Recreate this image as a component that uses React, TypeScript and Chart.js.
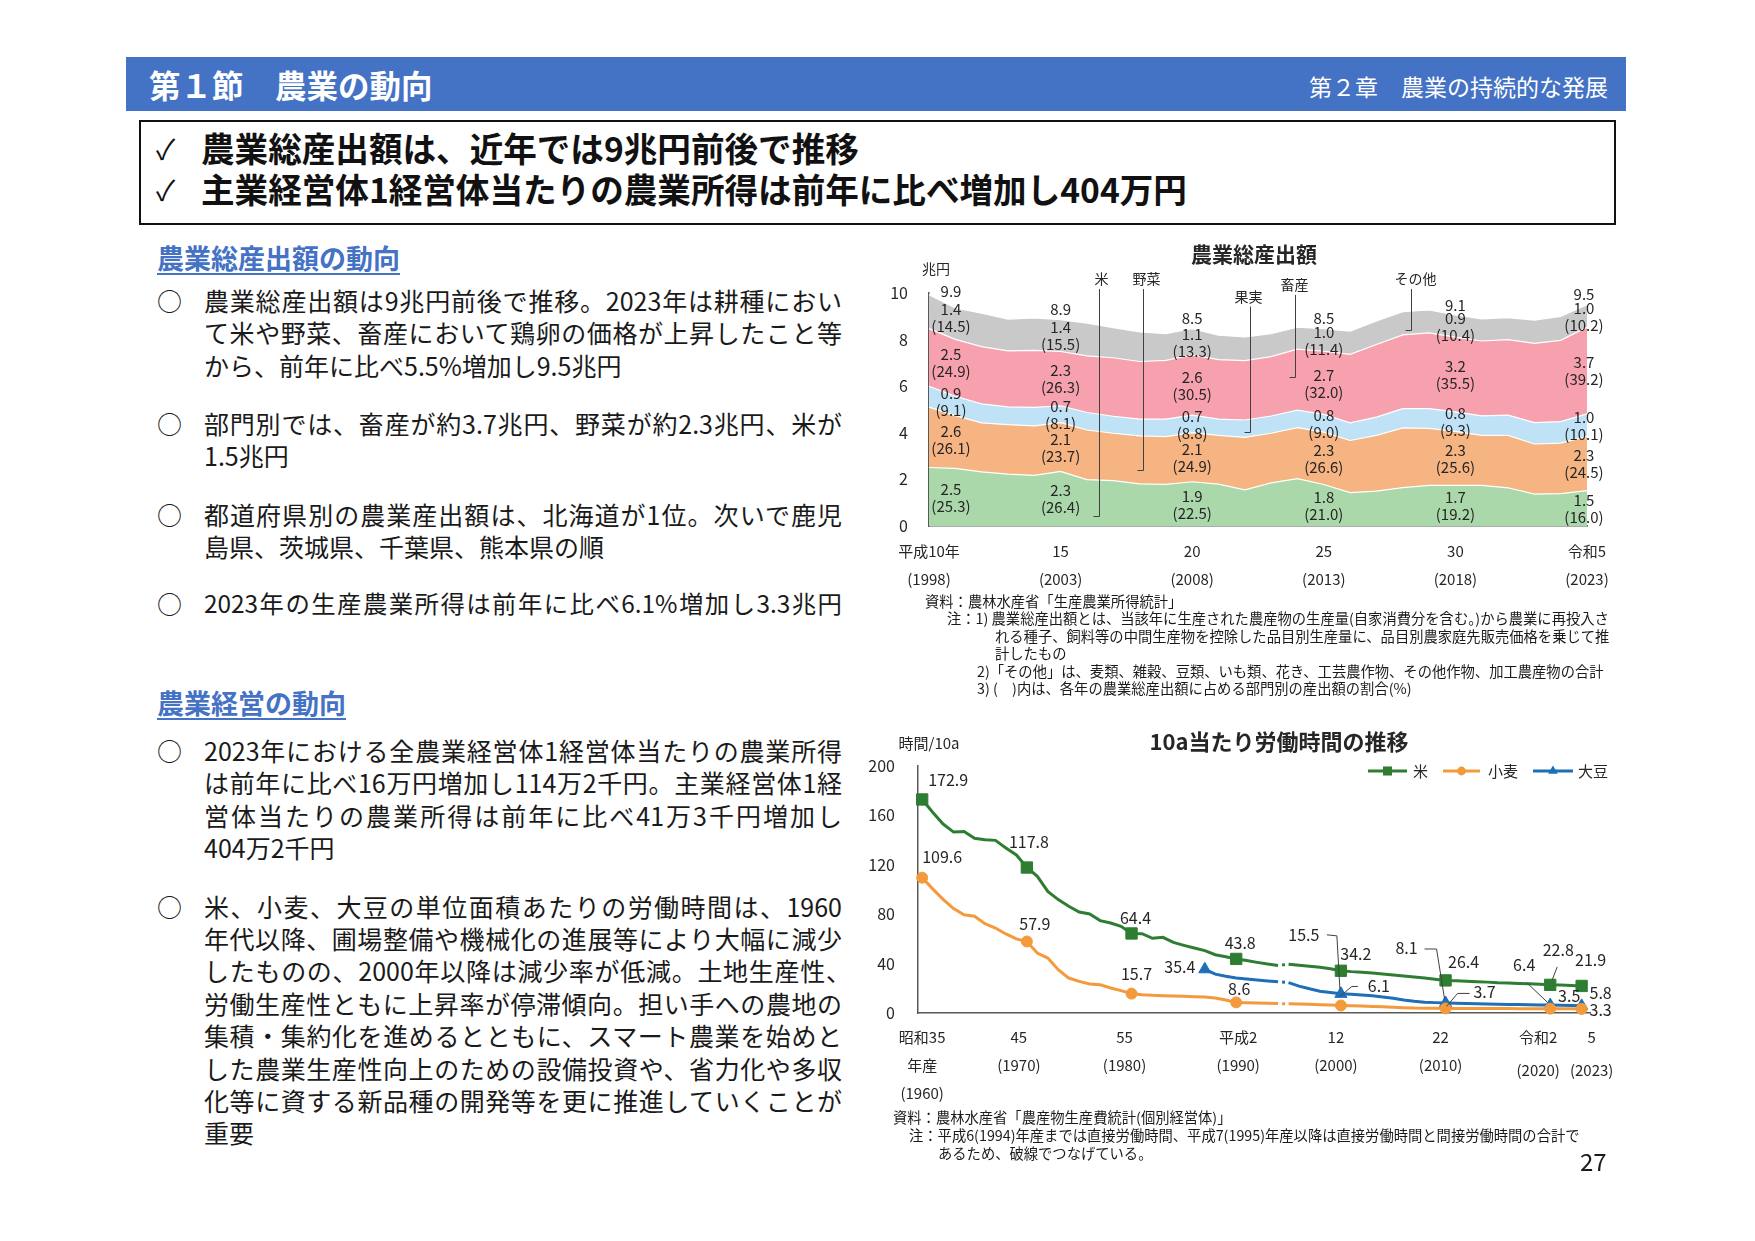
import React, { useEffect, useRef } from "react";
import { Chart, registerables } from "chart.js";

Chart.register(...registerables);

const FONT = '"Noto Sans CJK JP", "Noto Sans", "DejaVu Sans", sans-serif';
const INK = "#262626";

// ================= 農業総産出額 (兆円) =================
const OUTPUT_YEARS = ["1998", "1999", "2000", "2001", "2002", "2003", "2004", "2005", "2006", "2007", "2008", "2009", "2010", "2011", "2012", "2013", "2014", "2015", "2016", "2017", "2018", "2019", "2020", "2021", "2022", "2023"];
const RICE_OUTPUT = [2.51, 2.47, 2.32, 2.23, 2.17, 2.34, 1.99, 1.95, 1.81, 1.79, 1.9, 1.8, 1.55, 1.85, 2.03, 1.78, 1.43, 1.5, 1.65, 1.74, 1.74, 1.74, 1.64, 1.37, 1.39, 1.52];
const VEGETABLE_OUTPUT = [2.59, 2.27, 2.11, 2.12, 2.13, 2.1, 2.13, 2.03, 2.06, 2.05, 2.11, 2.09, 2.25, 2.13, 2.19, 2.25, 2.24, 2.39, 2.56, 2.45, 2.32, 2.15, 2.25, 2.15, 2.17, 2.33];
const FRUIT_OUTPUT = [0.9, 0.83, 0.81, 0.76, 0.79, 0.72, 0.75, 0.73, 0.72, 0.75, 0.75, 0.7, 0.75, 0.74, 0.75, 0.76, 0.76, 0.78, 0.83, 0.85, 0.84, 0.84, 0.87, 0.92, 0.92, 0.96];
const LIVESTOCK_OUTPUT = [2.47, 2.44, 2.46, 2.41, 2.45, 2.33, 2.43, 2.51, 2.47, 2.52, 2.58, 2.55, 2.55, 2.55, 2.62, 2.71, 2.94, 3.12, 3.16, 3.25, 3.21, 3.21, 3.24, 3.4, 3.49, 3.72];
const OTHER_OUTPUT = [1.46, 1.35, 1.43, 1.36, 1.39, 1.37, 1.41, 1.29, 1.27, 1.15, 1.13, 1.05, 1.02, 0.98, 0.94, 0.97, 0.99, 1.01, 1.0, 0.98, 0.95, 0.95, 0.94, 1.0, 1.03, 0.97];

const OUTPUT_SERIES_NAMES = ["米", "野菜", "果実", "畜産", "その他"];
const OUTPUT_LABEL_YEARS = ["1998", "2003", "2008", "2013", "2018", "2023"];
const OUTPUT_ERA_TICKS = ["平成10年", "15", "20", "25", "30", "令和5"];
const OUTPUT_AD_TICKS = ["(1998)", "(2003)", "(2008)", "(2013)", "(2018)", "(2023)"];
const OUTPUT_TOTAL_TEXT = ["9.9", "8.9", "8.5", "8.5", "9.1", "9.5"];
const RICE_VALUE_TEXT = ["2.5", "2.3", "1.9", "1.8", "1.7", "1.5"];
const RICE_SHARE_TEXT = ["(25.3)", "(26.4)", "(22.5)", "(21.0)", "(19.2)", "(16.0)"];
const VEGETABLE_VALUE_TEXT = ["2.6", "2.1", "2.1", "2.3", "2.3", "2.3"];
const VEGETABLE_SHARE_TEXT = ["(26.1)", "(23.7)", "(24.9)", "(26.6)", "(25.6)", "(24.5)"];
const FRUIT_VALUE_TEXT = ["0.9", "0.7", "0.7", "0.8", "0.8", "1.0"];
const FRUIT_SHARE_TEXT = ["(9.1)", "(8.1)", "(8.8)", "(9.0)", "(9.3)", "(10.1)"];
const LIVESTOCK_VALUE_TEXT = ["2.5", "2.3", "2.6", "2.7", "3.2", "3.7"];
const LIVESTOCK_SHARE_TEXT = ["(24.9)", "(26.3)", "(30.5)", "(32.0)", "(35.5)", "(39.2)"];
const OTHER_VALUE_TEXT = ["1.4", "1.4", "1.1", "1.0", "0.9", "1.0"];
const OTHER_SHARE_TEXT = ["(14.5)", "(15.5)", "(13.3)", "(11.4)", "(10.4)", "(10.2)"];

// ================= 10a当たり労働時間 (時間/10a) =================
const LABOR_YEARS = [
  1960, 1961, 1962, 1963, 1964, 1965, 1966, 1967, 1968, 1969,
  1970, 1971, 1972, 1973, 1974, 1975, 1976, 1977, 1978, 1979,
  1980, 1981, 1982, 1983, 1984, 1985, 1986, 1987, 1988, 1989,
  1990, 1991, 1992, 1993, 1994, 1995, 1996, 1997, 1998, 1999,
  2000, 2001, 2002, 2003, 2004, 2005, 2006, 2007, 2008, 2009,
  2010, 2011, 2012, 2013, 2014, 2015, 2016, 2017, 2018, 2019,
  2020, 2021, 2022, 2023,
];
const RICE_HOURS = [
  172.9, 162.5, 153.0, 146.5, 147.0, 141.5, 140.3, 139.8, 133.6, 128.0,
  117.8, 110.7, 98.5, 91.8, 86.4, 81.8, 80.2, 74.8, 72.9, 70.2,
  64.4, 64.2, 60.5, 61.3, 57.2, 54.8, 52.6, 50.5, 47.2, 45.5,
  43.8, 42.5, 41.0, 39.6, 38.5, 39.5, 38.6, 37.8, 37.0, 35.8,
  34.2, 33.5, 33.0, 32.4, 31.6, 30.8, 30.0, 29.2, 28.3, 27.3,
  26.4, 26.1, 25.8, 25.4, 25.0, 24.5, 24.2, 23.9, 23.6, 23.3,
  22.8, 22.6, 22.3, 21.9,
];
const WHEAT_HOURS = [
  109.6, 100.5, 92.0, 84.5, 79.6, 78.3, 72.3, 68.8, 64.0, 60.0,
  57.9, 48.6, 44.5, 35.1, 28.3, 25.6, 23.5, 22.9, 20.2, 18.1,
  15.7, 14.8, 14.3, 14.0, 13.8, 13.5, 13.2, 12.9, 12.2, 10.5,
  8.6, 8.3, 8.0, 7.8, 7.6, 7.4, 7.2, 7.0, 6.7, 6.4,
  6.1, 5.9, 5.6, 5.3, 5.0, 4.7, 4.3, 4.0, 3.9, 3.8,
  3.7, 3.7, 3.7, 3.6, 3.6, 3.6, 3.6, 3.5, 3.5, 3.5,
  3.5, 3.4, 3.4, 3.3,
];
const SOYBEAN_HOURS = [
  null, null, null, null, null, null, null, null, null, null,
  null, null, null, null, null, null, null, null, null, null,
  null, null, null, null, null, null, null, 35.4, 31.5, 29.8,
  28.3, 27.5, 26.8, 26.0, 25.3, 24.6, 21.8, 19.6, 17.6, 16.6,
  15.5, 15.1, 14.6, 14.0, 13.0, 12.0, 10.6, 9.5, 8.8, 8.4,
  8.1, 7.9, 7.6, 7.4, 7.2, 7.0, 6.9, 6.8, 6.7, 6.5,
  6.4, 6.2, 6.0, 5.8,
];
const LABOR_SERIES_NAMES = ["米", "小麦", "大豆"];
const RICE_WHEAT_MARK_YEARS = [1960, 1970, 1980, 1990, 2000, 2010, 2020, 2023];
const SOYBEAN_MARK_YEARS = [1987, 2000, 2010, 2020, 2023];
const BREAK_YEAR = 1994; // 1994 → 1995 joined with a broken line
const LABOR_TICK_YEARS = [1960, 1970, 1980, 1990, 2000, 2010, 2020, 2023];
const LABOR_TICK_ERA = ["昭和35", "45", "55", "平成2", "12", "22", "令和2", "5"];
const LABOR_TICK_SUB = [["年産", "(1960)"], ["(1970)"], ["(1980)"], ["(1990)"], ["(2000)"], ["(2010)"], ["(2020)"], ["(2023)"]];

// ---- label layout (offsets from the data point, px) ----
const LABOR_LABEL_LAYOUT = [
  { s: 0, year: 1960, text: "172.9", dx: 26, dy: -20 },
  { s: 0, year: 1970, text: "117.8", dx: 2, dy: -26 },
  { s: 0, year: 1980, text: "64.4", dx: 4, dy: -16 },
  { s: 0, year: 1990, text: "43.8", dx: 4, dy: -16 },
  { s: 0, year: 2000, text: "34.2", dx: 15, dy: -17 },
  { s: 0, year: 2010, text: "26.4", dx: 18, dy: -18 },
  { s: 0, year: 2020, text: "22.8", dx: 8, dy: -35, lead: [[7, -18], [2, -5]] },
  { s: 0, year: 2023, text: "21.9", dx: 9, dy: -26 },
  { s: 1, year: 1960, text: "109.6", dx: 20, dy: -21 },
  { s: 1, year: 1970, text: "57.9", dx: 8, dy: -18 },
  { s: 1, year: 1980, text: "15.7", dx: 5, dy: -20 },
  { s: 1, year: 1990, text: "8.6", dx: 3, dy: -13 },
  { s: 1, year: 2000, text: "6.1", dx: 38, dy: -20, lead: [[-1, -9], [11, -19], [17, -19]] },
  { s: 1, year: 2010, text: "3.7", dx: 39, dy: -17, lead: [[1, -2], [12, -15], [24, -15]] },
  { s: 1, year: 2020, text: "3.5", dx: 19, dy: -13 },
  { s: 1, year: 2023, text: "3.3", dx: 19, dy: 1 },
  { s: 2, year: 1987, text: "35.4", dx: -25, dy: -2 },
  { s: 2, year: 2000, text: "15.5", dx: -37, dy: -59, lead: [[-14, -59], [-4, -58], [-1, -5]] },
  { s: 2, year: 2010, text: "8.1", dx: -39, dy: -55, lead: [[-21, -54], [-9, -54], [-1, -4]] },
  { s: 2, year: 2020, text: "6.4", dx: -26, dy: -40, lead: [[-23, -22], [-3, -3]] },
  { s: 2, year: 2023, text: "5.8", dx: 19, dy: -13 },
];
const LABOR_TICK_NUDGE = [0, -8, -7, 2, -5, -5, -12, 10];
const OUTPUT_NAME_LEADERS = [
  { at: 6.45, low: 0.43, textAt: 10.6, textDx: 2 },
  { at: 8.14, low: 2.4, textAt: 10.6, textDx: 3 },
  { at: 12.2, low: 4.04, textAt: 9.85, textDx: -2 },
  { at: 13.9, low: 6.4, textAt: 10.35, textDx: -1 },
  { at: 18.3, low: 8.42, textAt: 10.6, textDx: 4 },
];
// horizontal shift (px) and band sampling shift (index) of each label column
const OUTPUT_COLUMN_DX = [22, 0, 0, 0, 0, -3];
const OUTPUT_COLUMN_SAMPLE = [0.5, 0, 0, 0, 0, 0];

// ================= page text =================
const OUTPUT_POINTS_TEXT = [
  ["農業総産出額は9兆円前後で推移。2023年は耕種におい", "て米や野菜、畜産において鶏卵の価格が上昇したこと等", "から、前年に比べ5.5%増加し9.5兆円"],
  ["部門別では、畜産が約3.7兆円、野菜が約2.3兆円、米が", "1.5兆円"],
  ["都道府県別の農業産出額は、北海道が1位。次いで鹿児", "島県、茨城県、千葉県、熊本県の順"],
  ["2023年の生産農業所得は前年に比べ6.1%増加し3.3兆円"],
];
const MANAGEMENT_POINTS_TEXT = [
  ["2023年における全農業経営体1経営体当たりの農業所得", "は前年に比べ16万円増加し114万2千円。主業経営体1経", "営体当たりの農業所得は前年に比べ41万3千円増加し", "404万2千円"],
  ["米、小麦、大豆の単位面積あたりの労働時間は、1960", "年代以降、圃場整備や機械化の進展等により大幅に減少", "したものの、2000年以降は減少率が低減。土地生産性、", "労働生産性ともに上昇率が停滞傾向。担い手への農地の", "集積・集約化を進めるとともに、スマート農業を始めと", "した農業生産性向上のための設備投資や、省力化や多収", "化等に資する新品種の開発等を更に推進していくことが", "重要"],
];
const OUTPUT_POINT_Y = [300, 423, 514, 603];
const MANAGEMENT_POINT_Y = [750, 905.5];

const OUTPUT_NOTES = [
  { x: 925, y: 601, t: "資料：農林水産省「生産農業所得統計」" },
  { x: 947, y: 618, t: "注：1) 農業総産出額とは、当該年に生産された農産物の生産量(自家消費分を含む。)から農業に再投入さ" },
  { x: 995, y: 636, t: "れる種子、飼料等の中間生産物を控除した品目別生産量に、品目別農家庭先販売価格を乗じて推" },
  { x: 995, y: 653, t: "計したもの" },
  { x: 977, y: 671, t: "2)「その他」は、麦類、雑穀、豆類、いも類、花き、工芸農作物、その他作物、加工農産物の合計" },
  { x: 977, y: 688, t: "3) (　)内は、各年の農業総産出額に占める部門別の産出額の割合(%)" },
];
const LABOR_NOTES = [
  { x: 893, y: 1117, t: "資料：農林水産省「農産物生産費統計(個別経営体)」" },
  { x: 909, y: 1135, t: "注：平成6(1994)年産までは直接労働時間、平成7(1995)年産以降は直接労働時間と間接労働時間の合計で" },
  { x: 938, y: 1153, t: "あるため、破線でつなげている。" },
];

// ================= colours =================
const AREA_COLORS = ["#abd8ab", "#f5b482", "#c0e2f6", "#f7a1af", "#c9c9c9"];
const LINE_COLORS = ["#2e7d32", "#f39b3c", "#1f6fb8"];
const LINE_STYLES = ["rect", "circle", "triangle"];
const LINE_RADII = [8, 5.5, 7];

function drawMarker(ctx: any, style: string, x: number, y: number, r: number, color: string) {
  ctx.fillStyle = color;
  ctx.beginPath();
  if (style === "rect") {
    const h = r * Math.SQRT1_2;
    ctx.rect(x - h, y - h, 2 * h, 2 * h);
  } else if (style === "circle") {
    ctx.arc(x, y, r, 0, Math.PI * 2);
  } else {
    ctx.moveTo(x, y - r);
    ctx.lineTo(x + r * 0.866, y + r * 0.5);
    ctx.lineTo(x - r * 0.866, y + r * 0.5);
    ctx.closePath();
  }
  ctx.fill();
}

function valueAt(arr: number[], f: number) {
  const i = Math.floor(f);
  const t = f - i;
  if (t === 0 || i + 1 >= arr.length) return arr[i];
  return arr[i] * (1 - t) + arr[i + 1] * t;
}

const outputOverlay = {
  id: "outputOverlay",
  afterDatasetsDraw(chart: any) {
    const { ctx, chartArea } = chart;
    const xs = chart.scales.x;
    const ys = chart.scales.y;
    const series = [
      { values: RICE_OUTPUT, v: RICE_VALUE_TEXT, p: RICE_SHARE_TEXT },
      { values: VEGETABLE_OUTPUT, v: VEGETABLE_VALUE_TEXT, p: VEGETABLE_SHARE_TEXT },
      { values: FRUIT_OUTPUT, v: FRUIT_VALUE_TEXT, p: FRUIT_SHARE_TEXT },
      { values: LIVESTOCK_OUTPUT, v: LIVESTOCK_VALUE_TEXT, p: LIVESTOCK_SHARE_TEXT },
      { values: OTHER_OUTPUT, v: OTHER_VALUE_TEXT, p: OTHER_SHARE_TEXT },
    ];
    ctx.save();
    ctx.textAlign = "center";
    ctx.textBaseline = "middle";
    ctx.fillStyle = INK;
    ctx.font = `bold 21px ${FONT}`;
    ctx.fillText("農業総産出額", (chartArea.left + chartArea.right) / 2 - 4, chartArea.top - 39);
    ctx.font = `14px ${FONT}`;
    ctx.fillText("兆円", chartArea.left + 7, chartArea.top - 24);

    // series names with leader lines
    ctx.strokeStyle = "#404040";
    ctx.lineWidth = 1;
    OUTPUT_NAME_LEADERS.forEach((l, k) => {
      const px = Math.round(xs.getPixelForValue(l.at)) + 0.5;
      const ty = ys.getPixelForValue(l.textAt);
      const by = Math.round(ys.getPixelForValue(l.low)) + 0.5;
      ctx.beginPath();
      ctx.moveTo(px, ty + 10);
      ctx.lineTo(px, by);
      ctx.lineTo(px - 6, by);
      ctx.stroke();
      ctx.fillStyle = INK;
      ctx.fillText(OUTPUT_SERIES_NAMES[k], px + l.textDx, ty);
    });

    // value / share labels
    ctx.font = `15px ${FONT}`;
    ctx.fillStyle = INK;
    OUTPUT_LABEL_YEARS.forEach((yr, j) => {
      const i = OUTPUT_YEARS.indexOf(yr);
      const px = xs.getPixelForValue(i) + OUTPUT_COLUMN_DX[j];
      const f = i + OUTPUT_COLUMN_SAMPLE[j];
      let base = 0;
      series.forEach((s) => {
        const v = valueAt(s.values, f);
        const mid = ys.getPixelForValue(base + v / 2);
        base += v;
        ctx.fillText(s.v[j], px, mid - 8);
        ctx.fillText(s.p[j], px, mid + 9);
      });
      ctx.fillText(OUTPUT_TOTAL_TEXT[j], px, ys.getPixelForValue(base) - 10);
    });

    // x tick labels
    OUTPUT_LABEL_YEARS.forEach((yr, j) => {
      const px = xs.getPixelForValue(OUTPUT_YEARS.indexOf(yr));
      ctx.fillText(OUTPUT_ERA_TICKS[j], px, chartArea.bottom + 25);
      ctx.fillText(OUTPUT_AD_TICKS[j], px, chartArea.bottom + 53);
    });
    ctx.restore();
  },
};

const LEGEND_LAYOUT = [
  { lineFrom: -222, lineTo: -183, textAt: -177 },
  { lineFrom: -147, lineTo: -110, textAt: -102 },
  { lineFrom: -57, lineTo: -17, textAt: -12 },
];

const laborOverlay = {
  id: "laborOverlay",
  afterDatasetsDraw(chart: any) {
    const { ctx, chartArea } = chart;
    const xs = chart.scales.x;
    const ys = chart.scales.y;
    const values = [RICE_HOURS, WHEAT_HOURS, SOYBEAN_HOURS];
    ctx.save();
    ctx.textAlign = "center";
    ctx.textBaseline = "middle";
    ctx.fillStyle = INK;
    ctx.font = `bold 22px ${FONT}`;
    ctx.fillText("10a当たり労働時間の推移", chartArea.left + 361, chartArea.top - 24);
    ctx.font = `15px ${FONT}`;
    ctx.fillText("時間/10a", chartArea.left + 11, chartArea.top - 23);

    // legend
    const ly = chartArea.top + 5;
    LEGEND_LAYOUT.forEach((l, k) => {
      const c = LINE_COLORS[k];
      ctx.strokeStyle = c;
      ctx.lineWidth = 3;
      ctx.beginPath();
      ctx.moveTo(chartArea.right + l.lineFrom, ly);
      ctx.lineTo(chartArea.right + l.lineTo, ly);
      ctx.stroke();
      drawMarker(ctx, LINE_STYLES[k], chartArea.right + (l.lineFrom + l.lineTo) / 2, ly, LINE_RADII[k] * 0.8, c);
      ctx.fillStyle = INK;
      ctx.textAlign = "left";
      ctx.fillText(LABOR_SERIES_NAMES[k], chartArea.right + l.textAt, ly);
    });

    // data labels
    ctx.textAlign = "center";
    ctx.font = `16px ${FONT}`;
    ctx.strokeStyle = "#404040";
    ctx.lineWidth = 1;
    LABOR_LABEL_LAYOUT.forEach((n: any) => {
      const i = LABOR_YEARS.indexOf(n.year);
      const px = xs.getPixelForValue(n.year);
      const py = ys.getPixelForValue(values[n.s][i]);
      if (n.lead) {
        ctx.beginPath();
        n.lead.forEach((p: number[], k: number) => {
          if (k === 0) ctx.moveTo(px + p[0], py + p[1]);
          else ctx.lineTo(px + p[0], py + p[1]);
        });
        ctx.stroke();
      }
      ctx.fillStyle = INK;
      ctx.fillText(n.text, px + n.dx, py + n.dy);
    });

    // x tick labels
    ctx.font = `15px ${FONT}`;
    LABOR_TICK_YEARS.forEach((yr, j) => {
      const px = xs.getPixelForValue(yr) + LABOR_TICK_NUDGE[j];
      ctx.fillText(LABOR_TICK_ERA[j], px, chartArea.bottom + 24);
      const extra = j >= 6 ? 5 : 0;
      LABOR_TICK_SUB[j].forEach((t, k) => {
        ctx.fillText(t, px, chartArea.bottom + 52 + extra + k * 28);
      });
    });
    ctx.restore();
  },
};

function outputConfig(): any {
  const sets = [RICE_OUTPUT, VEGETABLE_OUTPUT, FRUIT_OUTPUT, LIVESTOCK_OUTPUT, OTHER_OUTPUT];
  return {
    type: "line",
    data: {
      labels: OUTPUT_YEARS,
      datasets: sets.map((d, k) => ({
        label: OUTPUT_SERIES_NAMES[k],
        data: d,
        backgroundColor: AREA_COLORS[k],
        borderColor: "#ffffff",
        borderWidth: 1.2,
        fill: k === 0 ? "origin" : "-1",
        pointRadius: 0,
        tension: 0,
      })),
    },
    options: {
      responsive: false,
      animation: false,
      devicePixelRatio: 1,
      layout: { padding: { left: 0, right: 33, top: 53, bottom: 0 } },
      plugins: { legend: { display: false }, tooltip: { enabled: false }, title: { display: false } },
      scales: {
        x: {
          type: "category",
          offset: false,
          grid: { display: false, drawTicks: false },
          border: { display: true, color: "#595959", width: 1.5 },
          ticks: { display: false },
          afterFit: (s: any) => { s.height = 74; },
        },
        y: {
          stacked: true,
          min: 0,
          max: 10,
          ticks: { stepSize: 2, color: INK, padding: 21, font: { family: FONT, size: 16 } },
          grid: { display: false, drawTicks: false },
          border: { display: true, color: "#595959", width: 1.5 },
          afterFit: (s: any) => { s.width = 69; },
        },
      },
    },
    plugins: [outputOverlay],
  };
}

function laborConfig(): any {
  const sets = [RICE_HOURS, WHEAT_HOURS, SOYBEAN_HOURS];
  const marks = [RICE_WHEAT_MARK_YEARS, RICE_WHEAT_MARK_YEARS, SOYBEAN_MARK_YEARS];
  return {
    type: "line",
    data: {
      datasets: sets.map((vals, k) => ({
        label: LABOR_SERIES_NAMES[k],
        data: LABOR_YEARS.map((yr, i) => ({ x: yr, y: vals[i] })),
        borderColor: LINE_COLORS[k],
        backgroundColor: LINE_COLORS[k],
        borderWidth: 3,
        pointStyle: LINE_STYLES[k],
        pointRadius: (c: any) => (marks[k].includes(LABOR_YEARS[c.dataIndex]) ? LINE_RADII[k] : 0),
        pointHoverRadius: 0,
        pointBackgroundColor: LINE_COLORS[k],
        pointBorderColor: LINE_COLORS[k],
        pointBorderWidth: 1,
        tension: 0,
        fill: false,
        clip: false,
        segment: {
          borderDash: (c: any) => (LABOR_YEARS[c.p0DataIndex] === BREAK_YEAR ? [0, 4, 3, 4] : undefined),
        },
      })),
    },
    options: {
      responsive: false,
      animation: false,
      devicePixelRatio: 1,
      layout: { padding: { left: 0, right: 40, top: 36, bottom: 0 } },
      plugins: { legend: { display: false }, tooltip: { enabled: false }, title: { display: false } },
      scales: {
        x: {
          type: "linear",
          min: 1959.6,
          max: 2023.8,
          grid: { display: false, drawTicks: false },
          border: { display: true, color: "#595959", width: 1.5 },
          ticks: { display: false },
          afterFit: (s: any) => { s.height = 97; },
        },
        y: {
          min: 0,
          max: 200,
          ticks: { stepSize: 40, color: INK, padding: 23, font: { family: FONT, size: 16 } },
          grid: { display: false, drawTicks: false },
          border: { display: true, color: "#595959", width: 1.5 },
          afterFit: (s: any) => { s.width = 58; },
        },
      },
    },
    plugins: [laborOverlay],
  };
}

function Paragraph({ lines, y }: { lines: string[]; y: number }) {
  return (
    <>
      <div style={{ position: "absolute", left: 157, top: y - 16, fontSize: 25, lineHeight: "32px" }}>○</div>
      {lines.map((t, k) => {
        const single = lines.length === 1;
        const just = k < lines.length - 1 || single;
        const w = t.endsWith("、") ? 647 : 638;
        return (
          <div
            key={k}
            style={{
              position: "absolute",
              left: 204,
              top: y - 16 + k * 32.4,
              height: 32,
              lineHeight: "32px",
              fontSize: single ? 24.4 : 25,
              width: just ? w : undefined,
              whiteSpace: just ? "normal" : "nowrap",
              textAlign: just ? "justify" : "left",
              textAlignLast: just ? "justify" : "auto",
            } as any}
          >
            {t}
          </div>
        );
      })}
    </>
  );
}

function Note({ x, y, t }: { x: number; y: number; t: string }) {
  return (
    <div style={{ position: "absolute", left: x, top: y - 9, height: 18, lineHeight: "18px", fontSize: 14.3, whiteSpace: "nowrap", color: "#1a1a1a" }}>
      {t}
    </div>
  );
}

export default function App() {
  const topRef = useRef<HTMLCanvasElement>(null);
  const bottomRef = useRef<HTMLCanvasElement>(null);

  useEffect(() => {
    const c1 = new Chart(topRef.current as HTMLCanvasElement, outputConfig());
    const c2 = new Chart(bottomRef.current as HTMLCanvasElement, laborConfig());
    return () => {
      c1.destroy();
      c2.destroy();
    };
  }, []);

  const heading = (text: string, y: number) => (
    <div
      style={{
        position: "absolute",
        left: 157,
        top: y - 16,
        height: 32,
        lineHeight: "32px",
        fontSize: 27,
        fontWeight: 700,
        color: "#4472c4",
        textDecoration: "underline",
        textDecorationThickness: "2px",
        textUnderlineOffset: "4px",
        whiteSpace: "nowrap",
      }}
    >
      {text}
    </div>
  );

  return (
    <div
      style={{
        position: "absolute",
        left: 0,
        top: 0,
        width: 1755,
        height: 1241,
        background: "#ffffff",
        overflow: "hidden",
        fontFamily: FONT,
        color: "#1a1a1a",
      }}
    >
      {/* header bar */}
      <div style={{ position: "absolute", left: 126, top: 57, width: 1500, height: 54, background: "#4472c4" }} />
      <div style={{ position: "absolute", left: 149, top: 57, height: 54, lineHeight: "54px", fontSize: 31.5, fontWeight: 700, color: "#fff", whiteSpace: "nowrap" }}>
        第１節　農業の動向
      </div>
      <div style={{ position: "absolute", right: 147, top: 59, height: 54, lineHeight: "54px", fontSize: 23, color: "#fff", whiteSpace: "nowrap" }}>
        第２章　農業の持続的な発展
      </div>

      {/* summary box */}
      <div style={{ position: "absolute", left: 139, top: 120, width: 1473, height: 101, border: "2.5px solid #111" }} />
      {[
        { y: 148, t: "農業総産出額は、近年では9兆円前後で推移" },
        { y: 189, t: "主業経営体1経営体当たりの農業所得は前年に比べ増加し404万円" },
      ].map((l, k) => (
        <React.Fragment key={k}>
          <div style={{ position: "absolute", left: 156, top: l.y - 20, height: 40, lineHeight: "40px", fontSize: 28, color: "#111" }}>✓</div>
          <div style={{ position: "absolute", left: 201, top: l.y - 20, height: 40, lineHeight: "40px", fontSize: 33.6, fontWeight: 700, color: "#111", whiteSpace: "nowrap" }}>
            {l.t}
          </div>
        </React.Fragment>
      ))}

      {/* left column */}
      {heading("農業総産出額の動向", 258)}
      {OUTPUT_POINTS_TEXT.map((lines, k) => (
        <Paragraph key={"o" + k} lines={lines} y={OUTPUT_POINT_Y[k]} />
      ))}
      {heading("農業経営の動向", 703)}
      {MANAGEMENT_POINTS_TEXT.map((lines, k) => (
        <Paragraph key={"m" + k} lines={lines} y={MANAGEMENT_POINT_Y[k]} />
      ))}

      {/* charts */}
      <canvas ref={topRef} width={760} height={360} style={{ position: "absolute", left: 860, top: 240, width: 760, height: 360 }} />
      <canvas ref={bottomRef} width={770} height={380} style={{ position: "absolute", left: 860, top: 730, width: 770, height: 380 }} />

      {OUTPUT_NOTES.map((n, k) => (
        <Note key={"on" + k} {...n} />
      ))}
      {LABOR_NOTES.map((n, k) => (
        <Note key={"ln" + k} {...n} />
      ))}

      <div style={{ position: "absolute", left: 1580, top: 1146, height: 30, lineHeight: "30px", fontSize: 24, color: "#1a1a1a" }}>27</div>
    </div>
  );
}
